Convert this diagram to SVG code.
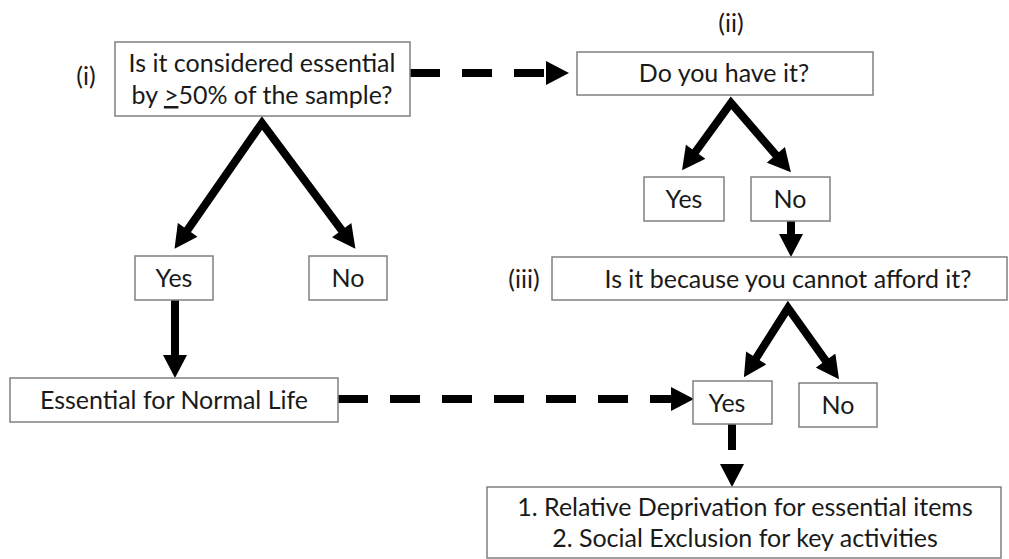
<svg xmlns="http://www.w3.org/2000/svg" width="1009" height="559" viewBox="0 0 1009 559">
<style>
.box{fill:#fff;stroke:#808080;stroke-width:1.5}
.t{font-family:Lato,"Open Sans","Liberation Sans",sans-serif;font-size:25px;fill:#1a1a1a;text-anchor:middle}
.c{fill:none;stroke:#000;stroke-width:8;stroke-linejoin:miter;stroke-miterlimit:10}
.d{stroke-dasharray:30 22}
</style>
<defs>
<marker id="ah" markerUnits="userSpaceOnUse" markerWidth="24" markerHeight="24" viewBox="0 0 23 24" refX="1" refY="12" orient="auto-start-reverse">
<path d="M0,0 L23,12 L0,24 z" fill="#000"/>
</marker>
</defs>
<rect x="0" y="0" width="1009" height="559" fill="#fff"/>

<g id="connectors">
<line class="c d" x1="410" y1="73" x2="547" y2="73" marker-end="url(#ah)"/>
<path class="c" d="M187.1,230.6 L262,123 L342.3,231" marker-start="url(#ah)" marker-end="url(#ah)"/>
<line class="c" x1="175" y1="300" x2="175" y2="356" marker-end="url(#ah)"/>
<line class="c d" x1="338" y1="399" x2="672" y2="399" marker-end="url(#ah)"/>
<path class="c" d="M695,152.5 L731,103 L776.5,155.6" marker-start="url(#ah)" marker-end="url(#ah)"/>
<line class="c" x1="791" y1="221" x2="791" y2="235" marker-end="url(#ah)"/>
<path class="c" d="M755.7,358.8 L788,308 L826.2,361.4" marker-start="url(#ah)" marker-end="url(#ah)"/>
<line class="c" x1="732" y1="423" x2="732" y2="465" stroke-dasharray="27 100" marker-end="url(#ah)"/>
</g>

<g id="label-i"><text class="t" x="86" y="85">(i)</text></g>
<g id="label-ii"><text class="t" x="731" y="32">(ii)</text></g>
<g id="label-iii"><text class="t" x="524" y="288">(iii)</text></g>

<g id="q1">
<rect class="box" x="115" y="42" width="295" height="74"/>
<text class="t" x="262" y="72">Is it considered essential</text>
<text class="t" x="262" y="104">by <tspan text-decoration="underline">&gt;</tspan>50% of the sample?</text>
</g>
<g id="q2">
<rect class="box" x="577" y="52" width="296" height="43"/>
<text class="t" x="724" y="82">Do you have it?</text>
</g>
<g id="yes1">
<rect class="box" x="135" y="256" width="78" height="44"/>
<text class="t" x="174" y="287">Yes</text>
</g>
<g id="no1">
<rect class="box" x="309" y="256" width="78" height="44"/>
<text class="t" x="348" y="287">No</text>
</g>
<g id="essential">
<rect class="box" x="10" y="378" width="328" height="44"/>
<text class="t" x="174" y="409">Essential for Normal Life</text>
</g>
<g id="yes2">
<rect class="box" x="644" y="177" width="80" height="44"/>
<text class="t" x="684" y="208">Yes</text>
</g>
<g id="no2">
<rect class="box" x="751" y="177" width="79" height="44"/>
<text class="t" x="790" y="208">No</text>
</g>
<g id="q3">
<rect class="box" x="552" y="257" width="455" height="43"/>
<text class="t" x="788" y="288">Is it because you cannot afford it?</text>
</g>
<g id="yes3">
<rect class="box" x="693" y="381" width="79" height="43"/>
<text class="t" x="727" y="412">Yes</text>
</g>
<g id="no3">
<rect class="box" x="799" y="383" width="78" height="44"/>
<text class="t" x="838" y="414">No</text>
</g>
<g id="result">
<rect class="box" x="487" y="487" width="514" height="71"/>
<text class="t" x="745" y="516">1. Relative Deprivation for essential items</text>
<text class="t" x="745" y="547">2. Social Exclusion for key activities</text>
</g>
</svg>
